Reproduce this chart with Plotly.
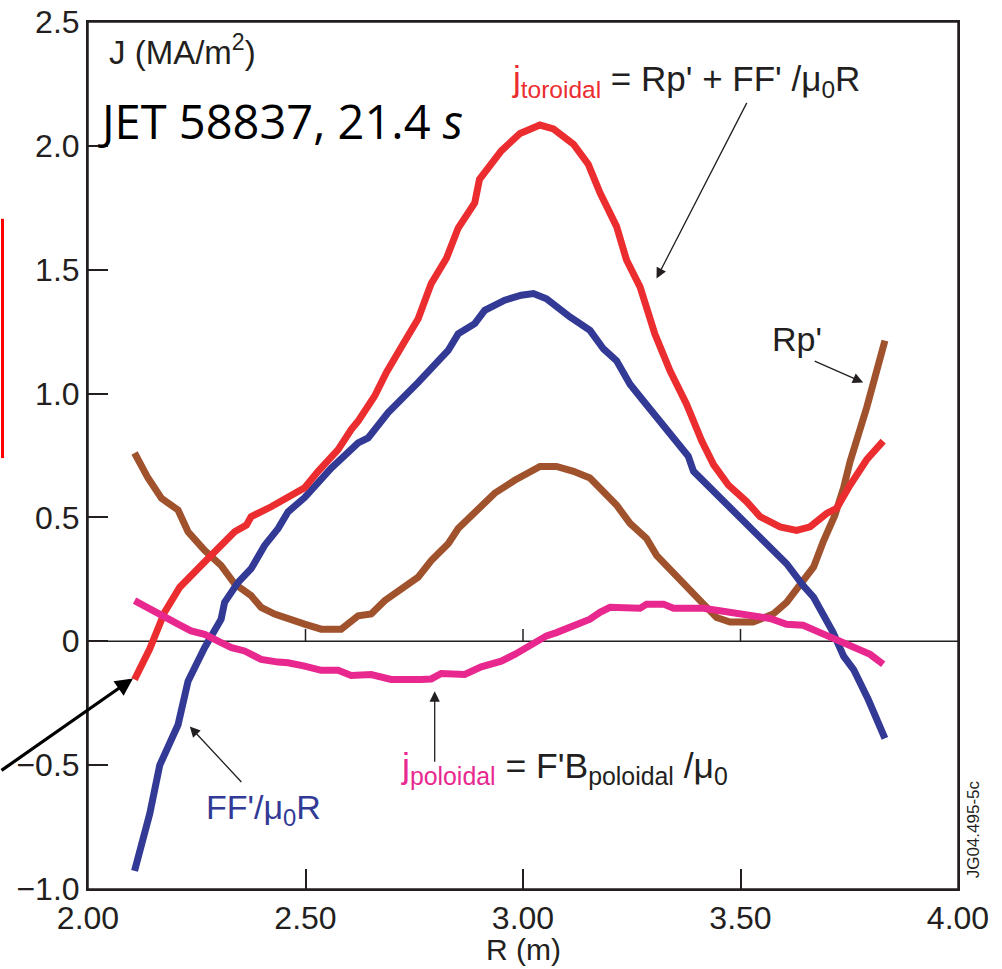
import plotly.graph_objects as go

# ---- data (R in m, J in MA/m^2) ----
R_tor = [2.107, 2.142, 2.176, 2.211, 2.26, 2.314, 2.337, 2.364, 2.375, 2.421, 2.46, 2.498, 2.529, 2.575,
         2.605, 2.621, 2.659, 2.686, 2.72, 2.759, 2.789, 2.824, 2.851, 2.889, 2.9, 2.95, 2.993, 3.039,
         3.07, 3.116, 3.15, 3.177, 3.215, 3.238, 3.269, 3.303, 3.338, 3.376, 3.411, 3.438, 3.472,
         3.514, 3.545, 3.591, 3.629, 3.66, 3.698, 3.721, 3.752, 3.79, 3.828]
J_tor = [-0.154, -0.03, 0.117, 0.218, 0.306, 0.401, 0.442, 0.469, 0.503, 0.543, 0.584, 0.62, 0.686, 0.774,
         0.855, 0.889, 0.99, 1.085, 1.187, 1.302, 1.444, 1.546, 1.668, 1.77, 1.865, 1.98, 2.05, 2.084,
         2.068, 2.007, 1.926, 1.81, 1.675, 1.539, 1.431, 1.241, 1.092, 0.957, 0.808, 0.713, 0.631,
         0.564, 0.503, 0.462, 0.448, 0.462, 0.516, 0.537, 0.631, 0.733, 0.808]

R_ff = [2.107, 2.142, 2.165, 2.207, 2.23, 2.268, 2.306, 2.314, 2.345, 2.375, 2.406, 2.437, 2.46, 2.498,
        2.559, 2.621, 2.644, 2.69, 2.759, 2.828, 2.851, 2.889, 2.912, 2.958, 2.996, 3.024, 3.054, 3.108,
        3.154, 3.185, 3.215, 3.246, 3.277, 3.346, 3.38, 3.392, 3.43, 3.468, 3.529, 3.575, 3.606, 3.644,
        3.668, 3.713, 3.737, 3.76, 3.794, 3.832]
J_ff = [-0.927, -0.696, -0.5, -0.337, -0.161, -0.026, 0.089, 0.157, 0.238, 0.293, 0.387, 0.455, 0.523, 0.58,
        0.699, 0.801, 0.821, 0.923, 1.045, 1.174, 1.241, 1.282, 1.336, 1.377, 1.397, 1.404, 1.383, 1.309,
        1.255, 1.18, 1.133, 1.038, 0.97, 0.814, 0.747, 0.686, 0.62, 0.55, 0.442, 0.36, 0.313, 0.225,
        0.178, 0.035, -0.06, -0.114, -0.236, -0.392]

R_rp = [2.107, 2.138, 2.169, 2.207, 2.23, 2.268, 2.306, 2.337, 2.375, 2.398, 2.429, 2.46, 2.498, 2.536,
        2.582, 2.621, 2.651, 2.682, 2.72, 2.759, 2.789, 2.828, 2.851, 2.889, 2.935, 2.981, 3.039, 3.077,
        3.116, 3.154, 3.192, 3.215, 3.246, 3.284, 3.307, 3.346, 3.384, 3.415, 3.445, 3.476, 3.529,
        3.575, 3.606, 3.637, 3.668, 3.69, 3.717, 3.737, 3.752, 3.79, 3.806, 3.832]
J_rp = [0.76, 0.659, 0.577, 0.53, 0.442, 0.367, 0.306, 0.232, 0.184, 0.137, 0.11, 0.089, 0.069, 0.049,
        0.049, 0.103, 0.11, 0.164, 0.211, 0.259, 0.326, 0.394, 0.455, 0.523, 0.598, 0.65, 0.706, 0.706,
        0.686, 0.659, 0.595, 0.55, 0.476, 0.415, 0.347, 0.279, 0.211, 0.15, 0.096, 0.078, 0.078,
        0.11, 0.157, 0.225, 0.3, 0.401, 0.509, 0.62, 0.726, 0.943, 1.038, 1.214]

R_pol = [2.107, 2.146, 2.176, 2.207, 2.237, 2.268, 2.306, 2.33, 2.36, 2.398, 2.437, 2.46, 2.498, 2.536,
         2.575, 2.605, 2.651, 2.674, 2.697, 2.766, 2.789, 2.812, 2.866, 2.904, 2.95, 2.981, 3.008, 3.054,
         3.077, 3.116, 3.154, 3.177, 3.2, 3.269, 3.284, 3.323, 3.346, 3.415, 3.453, 3.483, 3.514, 3.568,
         3.606, 3.644, 3.683, 3.729, 3.76, 3.798, 3.828]
J_pol = [0.164, 0.13, 0.103, 0.069, 0.042, 0.028, -0.005, -0.026, -0.039, -0.073, -0.084, -0.087, -0.1, -0.117,
         -0.117, -0.138, -0.134, -0.141, -0.154, -0.154, -0.152, -0.13, -0.134, -0.103, -0.08, -0.053, -0.025, 0.022,
         0.035, 0.066, 0.089, 0.117, 0.137, 0.133, 0.15, 0.15, 0.133, 0.133, 0.123, 0.117, 0.103, 0.092,
         0.069, 0.065, 0.035, 0.001, -0.019, -0.053, -0.093]

x_ticks = [2.0, 2.5, 3.0, 3.5, 4.0]
x_tick_text = ["2.00", "2.50", "3.00", "3.50", "4.00"]
y_ticks = [2.5, 2.0, 1.5, 1.0, 0.5, 0, -0.5, -1.0]
y_tick_text = ["2.5", "2.0", "1.5", "1.0", "0.5", "0", "\u22120.5", "\u22121.0"]

RED = "#ec2d2f"
BLUE = "#323a96"
BROWN = "#a0522d"
PINK = "#e8288f"
INK = "#231f20"
FONT = "Liberation Sans, Arial, sans-serif"

fig = go.Figure()
LW = 7
for xs, ys, c in [(R_rp, J_rp, BROWN), (R_ff, J_ff, BLUE), (R_tor, J_tor, RED), (R_pol, J_pol, PINK)]:
    fig.add_trace(go.Scatter(x=xs, y=ys, mode="lines", line=dict(color=c, width=LW),
                             showlegend=False, hoverinfo="skip"))

# frame border (explicit, so the top edge is always drawn)
fig.add_shape(type="rect", xref="paper", yref="paper", x0=0, x1=1, y0=0, y1=1,
              line=dict(color=INK, width=1.5), layer="above")
# zero line
fig.add_shape(type="line", xref="paper", yref="y", x0=0, x1=1, y0=0, y1=0,
              line=dict(color=INK, width=1.5), layer="below")
# small ticks along zero line
for xv in [2.5, 3.0, 3.5]:
    fig.add_shape(type="line", xref="x", yref="y", x0=xv, x1=xv, y0=0, y1=0.05,
                  line=dict(color=INK, width=1.5), layer="below")

# red bar at far left
fig.add_shape(type="line", xref="paper", yref="paper", x0=-0.0983, x1=-0.0983, y0=0.497, y1=0.773,
              line=dict(color="#ff0000", width=3))

ann = []
# labels
ann.append(dict(x=2.044, y=2.386, text="J (MA/m<sup>2</sup>)", xanchor="left", yanchor="middle",
                font=dict(size=33, color=INK, family=FONT)))
ann.append(dict(x=2.018, y=2.10, text="JET 58837, 21.4 <i>s</i>", xanchor="left", yanchor="middle",
                font=dict(size=47, color="#000000", family="Open Sans, sans-serif")))
ann.append(dict(x=2.97, y=2.26, xanchor="left", yanchor="middle",
                text="<span style='color:%s'>j<sub>toroidal</sub></span> = Rp' + FF' /\u03bc<sub>0</sub>R" % RED,
                font=dict(size=35, color=INK, family=FONT)))
ann.append(dict(x=3.568, y=1.22, text="Rp'", xanchor="left", yanchor="middle",
                font=dict(size=34, color=INK, family=FONT)))
ann.append(dict(x=2.267, y=-0.68, text="FF'/\u03bc<sub>0</sub>R", xanchor="left", yanchor="middle",
                font=dict(size=34, color=BLUE, family=FONT)))
ann.append(dict(x=2.714, y=-0.512, xanchor="left", yanchor="middle",
                text="<span style='color:%s'>j<sub>poloidal</sub></span> = F'B<sub>poloidal</sub> /\u03bc<sub>0</sub>" % PINK,
                font=dict(size=35.5, color=INK, family=FONT)))
ann.append(dict(xref="paper", yref="paper", x=1.004, y=0.01, text="JG04.495-5c", textangle=-90,
                xanchor="left", yanchor="bottom", font=dict(size=17, color=INK, family=FONT)))
ann.append(dict(xref="paper", yref="paper", x=0.5, y=-0.07, text="R (m)", xanchor="center", yanchor="middle",
                font=dict(size=30, color=INK, family=FONT)))

# arrows
arrow_defs = [
    (3.307, 1.465, 91, -177),
    (3.782, 1.045, -50, -22),
    (2.234, -0.344, 53, 57),
    (2.797, -0.202, 0, 72),
]
for x, y, ax, ay in arrow_defs:
    ann.append(dict(x=x, y=y, ax=ax, ay=ay, axref="pixel", ayref="pixel", showarrow=True, text="",
                    arrowhead=2, arrowsize=1.6, arrowwidth=1.3, arrowcolor=INK))
ann.append(dict(x=2.1034, y=-0.150, ax=-133, ay=93, showarrow=True, text="",
                arrowhead=2, arrowsize=1.1, arrowwidth=3.2, arrowcolor="#000000"))

for a in ann:
    a.setdefault("xref", "x")
    a.setdefault("yref", "y")
    a.setdefault("showarrow", False)
fig.update_layout(annotations=ann)

fig.update_layout(
    width=1002, height=969,
    margin=dict(l=88, r=44, t=22, b=80, autoexpand=False),
    plot_bgcolor="white", paper_bgcolor="white",
    font=dict(family=FONT, color=INK),
)
fig.update_xaxes(range=[2.0, 4.0], tickvals=x_ticks, ticktext=x_tick_text, ticks="inside", ticklen=20,
                 tickwidth=1.5, tickcolor=INK, showgrid=False, zeroline=False, showline=True, mirror=True,
                 linecolor=INK, linewidth=2, tickfont=dict(size=32, color=INK), automargin=False,
                 ticklabeloverflow="allow")
fig.update_yaxes(range=[-1.0, 2.5], tickvals=y_ticks, ticktext=y_tick_text, ticks="inside", ticklen=20,
                 tickwidth=1.5, tickcolor=INK, showgrid=False, zeroline=False, showline=True, mirror=True,
                 linecolor=INK, linewidth=2, tickfont=dict(size=32, color=INK), automargin=False,
                 ticklabeloverflow="allow")

fig.write_html("out.html", config={"displayModeBar": False},
               post_script="document.body.style.margin='0';document.body.style.overflow='hidden';")
